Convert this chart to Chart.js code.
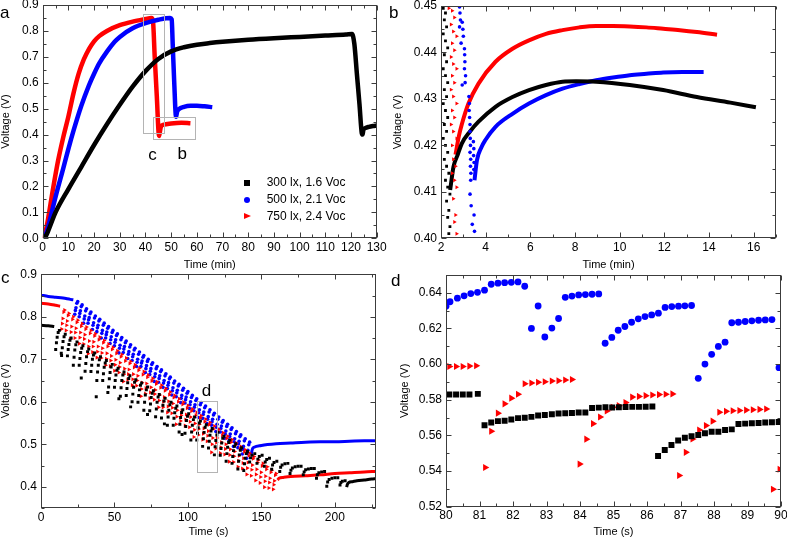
<!DOCTYPE html>
<html>
<head>
<meta charset="utf-8">
<script src="https://cdn.jsdelivr.net/npm/chart.js@4.4.0/dist/chart.umd.min.js"></script>
<style>
  html, body { margin: 0; padding: 0; background: #fff; }
  body { width: 787px; height: 539px; position: relative; overflow: hidden; font-family: "Liberation Sans", Arial, sans-serif; color: #000; }
  canvas { position: absolute; }
  .lbl { position: absolute; font-size: 17px; line-height: 17px; }
  .legend { position: absolute; left: 242px; top: 174px; font-size: 12px; }
  .row { position: relative; height: 17.2px; line-height: 17.2px; padding-left: 24.7px; white-space: nowrap; }
  .mk { position: absolute; }
  .sq { left: 1.7px; top: 5.6px; width: 6px; height: 6px; background: #000; }
  .ci { left: 1.5px; top: 5.4px; width: 6.4px; height: 6.4px; border-radius: 50%; background: #0000ff; }
  .tr { left: 1.5px; top: 5.1px; width: 0; height: 0; border-left: 7px solid #ff0000; border-top: 3.5px solid transparent; border-bottom: 3.5px solid transparent; }
</style>
</head>
<body>
<canvas id="ca" width="395" height="275" style="left:0;top:0"></canvas>
<canvas id="cb" width="395" height="275" style="left:392px;top:0"></canvas>
<canvas id="cc" width="395" height="274" style="left:0;top:265px"></canvas>
<canvas id="cd" width="395" height="274" style="left:392px;top:265px"></canvas>

<div class="lbl" style="left:0;top:3.9px">a</div>
<div class="lbl" style="left:389px;top:3.9px">b</div>
<div class="lbl" style="left:1px;top:268.9px">c</div>
<div class="lbl" style="left:391px;top:272.3px">d</div>

<div class="legend">
  <div class="row"><span class="mk sq"></span>300 lx, 1.6 Voc</div>
  <div class="row"><span class="mk ci"></span>500 lx, 2.1 Voc</div>
  <div class="row"><span class="mk tr"></span>750 lx, 2.4 Voc</div>
</div>

<script>
// ---- panel a: charging / discharging, time in min
const aBlack = [[0.8,0],[2,0.025],[5,0.1],[10,0.19],[15,0.275],[20,0.36],[25,0.44],[30,0.515],[35,0.585],[40,0.645],[45,0.692],[50,0.721],[55,0.737],[60,0.747],[65,0.753],[70,0.758],[80,0.766],[90,0.772],[100,0.777],[110,0.782],[118,0.786],[120.4,0.788],[121.3,0.75],[122.3,0.633],[123.3,0.517],[124.2,0.405],[124.5,0.4],[124.8,0.418],[125.5,0.425],[127,0.43],[128.5,0.433],[130,0.435]];
const aBlue = [[0.8,0],[2,0.04],[5,0.16],[8,0.27],[10,0.345],[12,0.415],[15,0.51],[18,0.59],[20,0.635],[22,0.675],[25,0.72],[28,0.758],[30,0.777],[35,0.81],[40,0.83],[45,0.843],[49.6,0.85],[50.2,0.845],[50.6,0.75],[51.2,0.6],[51.9,0.469],[52.3,0.488],[53,0.498],[55,0.507],[57.5,0.511],[60,0.511],[63,0.509],[66,0.506]];
const aRed = [[0.6,0],[2,0.07],[4,0.19],[6,0.3],[8,0.39],[10,0.47],[12,0.56],[14,0.635],[16,0.69],[18,0.73],[20,0.76],[22,0.78],[25,0.8],[30,0.822],[35,0.836],[40,0.846],[42.3,0.85],[42.9,0.84],[43.6,0.7],[44.4,0.55],[45.3,0.395],[45.6,0.41],[46,0.43],[47,0.438],[50,0.443],[54,0.446],[57.5,0.444]];

// ---- panel b: recovery after discharge
const bBlack = [[2.41,0.4104],[2.56,0.4154],[2.75,0.418],[2.93,0.4204],[3.3,0.423],[3.68,0.4251],[4.44,0.4283],[5.2,0.4304],[5.94,0.4319],[6.7,0.433],[7.44,0.4337],[8.05,0.4338],[8.95,0.4337],[10.45,0.433],[11.95,0.4319],[13.46,0.4304],[14.96,0.4292],[16.1,0.4282]];
const bBlue = [[3.5,0.4125],[3.61,0.4168],[3.8,0.4195],[3.98,0.4211],[4.44,0.424],[5.2,0.4268],[5.94,0.429],[6.7,0.4308],[7.44,0.4322],[8.2,0.4332],[8.95,0.434],[9.7,0.4346],[10.45,0.4351],[11.2,0.4354],[11.95,0.4357],[12.8,0.4358],[13.76,0.4358]];
const bRed = [[2.65,0.418],[2.8,0.422],[2.93,0.4245],[3.23,0.429],[3.68,0.4333],[4.44,0.438],[5.2,0.4408],[5.94,0.4426],[6.7,0.444],[7.44,0.4448],[8.2,0.4454],[8.95,0.4457],[9.7,0.4457],[10.45,0.4456],[11.2,0.4454],[11.95,0.4451],[12.7,0.4448],[13.46,0.4444],[14.36,0.4438]];
const bBlackDots = [[2.1,0.4495],[2.2,0.4485],[2.15,0.447],[2.25,0.4455],[2.1,0.444],[2.2,0.4425],[2.3,0.441],[2.15,0.4395],[2.25,0.438],[2.1,0.4365],[2.2,0.435],[2.3,0.4335],[2.15,0.432],[2.25,0.4305],[2.1,0.429],[2.2,0.4275],[2.3,0.426],[2.15,0.4245],[2.25,0.423],[2.1,0.4215],[2.2,0.42],[2.3,0.4185],[2.15,0.417],[2.25,0.4155],[2.35,0.414],[2.2,0.4125],[2.3,0.411],[2.4,0.4095],[2.25,0.408],[2.35,0.406],[2.3,0.4045],[2.4,0.4025],[2.35,0.401]];
const bRedDots = [[2.35,0.4495],[2.5,0.449],[2.6,0.4475],[2.45,0.446],[2.55,0.4445],[2.7,0.4435],[2.5,0.442],[2.6,0.4405],[2.45,0.439],[2.55,0.4375],[2.7,0.4365],[2.5,0.435],[2.6,0.4335],[2.45,0.432],[2.55,0.4305],[2.7,0.429],[2.5,0.4275],[2.6,0.426],[2.45,0.4245],[2.55,0.423],[2.7,0.4215],[2.5,0.42],[2.55,0.417],[2.65,0.4155],[2.5,0.414],[2.6,0.4125],[2.7,0.411],[2.55,0.4085],[2.65,0.405],[2.6,0.4035],[2.7,0.401]];
const bBlueDots = [[2.83,0.4498],[2.85,0.4485],[2.87,0.447],[2.83,0.4455],[2.95,0.4465],[2.98,0.445],[3.0,0.4435],[2.9,0.442],[3.05,0.4408],[3.06,0.4395],[3.07,0.438],[3.05,0.4365],[3.1,0.435],[3.08,0.4335],[2.95,0.433],[3.25,0.4305],[3.27,0.429],[3.26,0.4275],[3.28,0.426],[3.3,0.4245],[3.3,0.423],[3.31,0.4215],[3.32,0.42],[3.3,0.4185],[3.33,0.417],[3.32,0.4155],[3.34,0.414],[3.33,0.4125],[3.45,0.4208],[3.47,0.4193],[3.46,0.4178],[3.48,0.4163],[3.47,0.4148],[3.3,0.4095],[3.35,0.407],[3.48,0.405],[3.4,0.403],[3.5,0.4015]];

// ---- panel c: discharge, time in s
const cBlackStart = [[0,0.78],[5,0.779],[9,0.777]];
const cBlueStart = [[0,0.851],[5,0.848],[10,0.846],[15,0.844],[20,0.841],[22,0.84]];
const cRedStart = [[0,0.832],[5,0.83],[10,0.827],[13,0.825]];
const cBlackSaw = [[10,0.723],[11,0.752],[12.5,0.768],[13.8,0.714],[14,0.709],[15,0.742],[16.5,0.759],[18,0.708],[19,0.735],[20.5,0.75],[22,0.686],[23,0.722],[24.5,0.741],[26,0.686],[27,0.716],[27.4,0.656],[28.5,0.732],[30,0.672],[31,0.706],[32.5,0.724],[34,0.671],[35,0.7],[36.5,0.715],[37.6,0.612],[38,0.65],[39,0.686],[40.5,0.706],[42,0.65],[43,0.681],[44.5,0.697],[46,0.635],[47,0.669],[48.5,0.688],[50,0.634],[51,0.663],[52.5,0.679],[54,0.613],[55,0.65],[56.5,0.67],[58,0.615],[59,0.645],[60.5,0.661],[62,0.6],[63,0.634],[64.5,0.652],[66,0.599],[67,0.628],[68.5,0.644],[70,0.58],[71,0.616],[72.5,0.635],[74,0.579],[75,0.61],[76.5,0.626],[78,0.565],[79,0.599],[80.5,0.617],[82,0.562],[83,0.592],[84.5,0.608],[86,0.545],[87,0.58],[88.5,0.599],[90,0.545],[91,0.574],[92.5,0.59],[94,0.529],[95,0.563],[96.5,0.581],[98,0.526],[99,0.556],[100.5,0.572],[102,0.51],[103,0.545],[104.5,0.564],[106,0.51],[107,0.539],[108.5,0.555],[110,0.495],[111,0.528],[112.5,0.546],[114,0.491],[115,0.521],[116.5,0.537],[118,0.475],[119,0.509],[120.5,0.528],[122,0.474],[123,0.503],[124.5,0.519],[126,0.46],[127,0.493],[128.5,0.51],[130,0.455],[131,0.485],[132.5,0.501],[134,0.442],[135,0.475],[136.5,0.492],[138,0.438],[139,0.467],[140.5,0.483],
  [142,0.458],[142.6,0.468],[143.6,0.474],[145.5,0.478],[147,0.455],[147.6,0.465],[148.6,0.471],[150.5,0.474],[152,0.448],[152.6,0.458],[153.6,0.464],[155.5,0.467],[157,0.441],[157.6,0.451],[158.6,0.457],[160.5,0.46],[162.5,0.436],[163.1,0.446],[164.1,0.451],[166,0.454],[168,0.455],[169.5,0.431],[170.1,0.439],[171.1,0.444],[173,0.447],[175,0.448],[177,0.448],[178.5,0.428],[179.1,0.435],[180.1,0.44],[182,0.442],[184,0.443],[186,0.443],[187.5,0.42],[188.1,0.428],[189.1,0.433],[191,0.435],[193,0.436],[194.5,0.401],[195.1,0.411],[196.1,0.417],[198,0.42],[200,0.421],[202,0.421],[203.5,0.404],[204.1,0.41],[205.1,0.413],[207,0.414]];
const cBlackRise = [[10.5,0.739],[11.7,0.763],[14.5,0.727],[15.7,0.753],[18.5,0.723],[19.7,0.745],[22.5,0.705],[23.7,0.734],[26.5,0.702],[27.7,0.726],[30.5,0.69],[31.7,0.718],[34.5,0.686],[35.7,0.71],[38.5,0.67],[39.7,0.699],[42.5,0.666],[43.7,0.691],[46.5,0.654],[47.7,0.682],[50.5,0.65],[51.7,0.674],[54.5,0.633],[55.7,0.663],[58.5,0.631],[59.7,0.655],[62.5,0.618],[63.7,0.646],[66.5,0.615],[67.7,0.639],[70.5,0.599],[71.7,0.628],[74.5,0.595],[75.7,0.62],[78.5,0.583],[79.7,0.611],[82.5,0.578],[83.7,0.602],[86.5,0.564],[87.7,0.593],[90.5,0.561],[91.7,0.585],[94.5,0.547],[95.7,0.575],[98.5,0.542],[99.7,0.566],[102.5,0.529],[103.7,0.558],[106.5,0.526],[107.7,0.55],[110.5,0.513],[111.7,0.54],[114.5,0.507],[115.7,0.531],[118.5,0.494],[119.7,0.522],[122.5,0.49],[123.7,0.514],[126.5,0.478],[127.7,0.504],[130.5,0.471],[131.7,0.495],[134.5,0.46],[135.7,0.486],[138.5,0.454],[139.7,0.478],
  [45.5,0.622],[53,0.607],[61,0.588],[72.5,0.57],[84,0.548],[96,0.523]];
const cBlueSaw = [[23,0.806],[23.8,0.821],[25,0.836],[26,0.8],[26.8,0.814],[28,0.828],[29,0.785],[29.8,0.802],[31,0.819],[32,0.785],[32.8,0.798],[34,0.811],[35,0.77],[35.8,0.786],[37,0.802],[38,0.765],[38.8,0.78],[40,0.794],[41,0.75],[41.8,0.768],[43,0.785],[44,0.75],[44.8,0.764],[46,0.777],[47,0.737],[47.8,0.753],[49,0.768],[50,0.732],[50.8,0.746],[52,0.76],[53,0.715],[53.8,0.733],[55,0.751],[56,0.716],[56.8,0.73],[58,0.743],[59,0.702],[59.8,0.718],[61,0.734],[62,0.697],[62.8,0.712],[64,0.726],[65,0.683],[65.8,0.7],[67,0.717],[68,0.683],[68.8,0.696],[70,0.709],[71,0.669],[71.8,0.685],[73,0.7],[74,0.664],[74.8,0.678],[76,0.692],[77,0.648],[77.8,0.666],[79,0.683],[80,0.646],[80.8,0.661],[82,0.675],[83,0.634],[83.8,0.65],[85,0.666],[86,0.631],[86.8,0.645],[88,0.658],[89,0.616],[89.8,0.633],[91,0.649],[92,0.612],[92.8,0.627],[94,0.641],[95,0.598],[95.8,0.615],[97,0.632],[98,0.597],[98.8,0.611],[100,0.624],[101,0.584],[101.8,0.6],[103,0.615],[104,0.579],[104.8,0.593],[106,0.607],[107,0.563],[107.8,0.581],[109,0.598],[110,0.561],[110.8,0.576],[112,0.59],[113,0.549],[113.8,0.565],[115,0.581],[116,0.545],[116.8,0.559],[118,0.573],[119,0.53],[119.8,0.547],[121,0.564],[122,0.529],[122.8,0.543],[124,0.556],[125,0.514],[125.8,0.531],[127,0.547],[128,0.509],[128.8,0.524],[130,0.539],[131,0.495],[131.8,0.513],[133,0.53],[134,0.492],[134.8,0.507],[136,0.522],[137,0.477],[137.8,0.495],[139,0.513],[140,0.467],[140.8,0.486],[142,0.505]];
const cBlueRise = [[23.4,0.815],[24.4,0.832],[26.4,0.808],[27.4,0.824],[29.4,0.795],[30.4,0.814],[32.4,0.793],[33.4,0.807],[35.4,0.78],[36.4,0.797],[38.4,0.774],[39.4,0.79],[41.4,0.761],[42.4,0.78],[44.4,0.758],[45.4,0.773],[47.4,0.746],[48.4,0.763],[50.4,0.74],[51.4,0.756],[53.4,0.726],[54.4,0.746],[56.4,0.724],[57.4,0.739],[59.4,0.712],[60.4,0.729],[62.4,0.706],[63.4,0.722],[65.4,0.693],[66.4,0.712],[68.4,0.691],[69.4,0.705],[71.4,0.678],[72.4,0.695],[74.4,0.672],[75.4,0.688],[77.4,0.659],[78.4,0.678],[80.4,0.655],[81.4,0.671],[83.4,0.644],[84.4,0.661],[86.4,0.639],[87.4,0.654],[89.4,0.626],[90.4,0.644],[92.4,0.621],[93.4,0.637],[95.4,0.608],[96.4,0.627],[98.4,0.605],[99.4,0.62],[101.4,0.593],[102.4,0.61],[104.4,0.587],[105.4,0.603],[107.4,0.574],[108.4,0.593],[110.4,0.57],[111.4,0.586],[113.4,0.559],[114.4,0.576],[116.4,0.553],[117.4,0.569],[119.4,0.54],[120.4,0.559],[122.4,0.537],[123.4,0.552],[125.4,0.524],[126.4,0.542],[128.4,0.518],[129.4,0.535],[131.4,0.506],[132.4,0.525],[134.4,0.501],[135.4,0.518],[137.4,0.488],[138.4,0.508],[140.4,0.478],[141.4,0.499]];
const cRedSaw = [[14,0.771],[14.8,0.796],[16,0.816],[17,0.768],[17.8,0.79],[19,0.808],[20,0.748],[20.8,0.777],[22,0.8],[23,0.75],[23.8,0.773],[25,0.792],[26,0.737],[26.8,0.763],[28,0.784],[29,0.736],[29.8,0.758],[31,0.776],[32,0.713],[32.8,0.743],[34,0.768],[35,0.717],[35.8,0.741],[37,0.76],[38,0.704],[38.8,0.73],[40,0.752],[41,0.703],[41.8,0.726],[43,0.744],[44,0.686],[44.8,0.714],[46,0.736],[47,0.684],[47.8,0.708],[49,0.728],[50,0.673],[50.8,0.699],[52,0.72],[53,0.669],[53.8,0.692],[55,0.711],[56,0.648],[56.8,0.678],[58,0.703],[59,0.652],[59.8,0.676],[61,0.695],[62,0.639],[62.8,0.665],[64,0.687],[65,0.638],[65.8,0.661],[67,0.679],[68,0.613],[68.8,0.645],[70,0.671],[71,0.619],[71.8,0.643],[73,0.663],[74,0.608],[74.8,0.634],[76,0.655],[77,0.605],[77.8,0.628],[79,0.647],[80,0.587],[80.8,0.616],[82,0.639],[83,0.587],[83.8,0.611],[85,0.631],[86,0.575],[86.8,0.601],[88,0.623],[89,0.573],[89.8,0.596],[91,0.615],[92,0.547],[92.8,0.58],[94,0.607],[95,0.555],[95.8,0.579],[97,0.599],[98,0.544],[98.8,0.57],[100,0.591],[101,0.54],[101.8,0.564],[103,0.583],[104,0.517],[104.8,0.549],[106,0.575],[107,0.522],[107.8,0.547],[109,0.567],[110,0.511],[110.8,0.537],[112,0.559],[113,0.507],[113.8,0.531],[115,0.551],[116,0.481],[116.8,0.515],[118,0.543],[119,0.49],[119.8,0.515],[121,0.535],[122,0.479],[122.8,0.505],[124,0.527],[125,0.476],[125.8,0.5],[127,0.519],[128,0.459],[128.8,0.488],[130,0.511],[131,0.458],[131.8,0.483],[133,0.503],[134,0.447],[134.8,0.473],[136,0.495],[137,0.443],[137.8,0.467],[139,0.487],[140,0.429],[140.8,0.457],[142,0.479],[143,0.426],[143.8,0.451],[145,0.471],[146,0.415],[146.8,0.441],[148,0.463],[149,0.409],[149.8,0.434],[151,0.455],[152,0.399],[152.8,0.425],[154,0.447],[155,0.397],[155.8,0.42],[157,0.439],[158,0.394],[158.8,0.414],[160,0.431]];
const cRedRise = [[14.4,0.784],[15.4,0.811],[17.4,0.78],[18.4,0.803],[20.4,0.764],[21.4,0.794],[23.4,0.763],[24.4,0.787],[26.4,0.751],[27.4,0.778],[29.4,0.748],[30.4,0.771],[32.4,0.73],[33.4,0.761],[35.4,0.73],[36.4,0.755],[38.4,0.718],[39.4,0.746],[41.4,0.715],[42.4,0.739],[44.4,0.701],[45.4,0.73],[47.4,0.697],[48.4,0.723],[50.4,0.687],[51.4,0.714],[53.4,0.682],[54.4,0.706],[56.4,0.665],[57.4,0.696],[59.4,0.665],[60.4,0.69],[62.4,0.653],[63.4,0.681],[65.4,0.65],[66.4,0.674],[68.4,0.63],[69.4,0.664],[71.4,0.632],[72.4,0.658],[74.4,0.622],[75.4,0.649],[77.4,0.618],[78.4,0.642],[80.4,0.603],[81.4,0.633],[83.4,0.6],[84.4,0.626],[86.4,0.589],[87.4,0.617],[89.4,0.586],[90.4,0.61],[92.4,0.565],[93.4,0.6],[95.4,0.568],[96.4,0.594],[98.4,0.558],[99.4,0.585],[101.4,0.553],[102.4,0.578],[104.4,0.534],[105.4,0.568],[107.4,0.536],[108.4,0.562],[110.4,0.525],[111.4,0.553],[113.4,0.52],[114.4,0.546],[116.4,0.5],[117.4,0.536],[119.4,0.504],[120.4,0.53],[122.4,0.493],[123.4,0.521],[125.4,0.489],[126.4,0.514],[128.4,0.475],[129.4,0.505],[131.4,0.472],[132.4,0.498],[134.4,0.461],[135.4,0.489],[137.4,0.456],[138.4,0.482],[140.4,0.444],[141.4,0.473],[143.4,0.44],[144.4,0.466],[146.4,0.429],[147.4,0.457],[149.4,0.423],[150.4,0.449],[152.4,0.413],[153.4,0.441],[155.4,0.41],[156.4,0.434],[158.4,0.405],[159.4,0.427]];
const cBlackEnd = [[208,0.399],[208.6,0.406],[209.5,0.41],[212,0.412],[215,0.414],[220,0.416],[225,0.418],[228,0.419]];
const cBlueEnd = [[143,0.475],[144,0.49],[145,0.493],[150,0.497],[160,0.501],[170,0.503],[180,0.505],[190,0.506],[200,0.506],[210,0.507],[220,0.508],[228,0.508]];
const cRedEnd = [[161,0.416],[162,0.42],[165,0.422],[170,0.424],[180,0.426],[190,0.428],[200,0.431],[210,0.433],[220,0.435],[228,0.436]];

// ---- panel d: zoom into the sawtooth, time in s
const dBlack = [[80.1,0.583],[80.3,0.583],[80.5,0.583],[80.7,0.583],[80.95,0.5833],[81.15,0.5657],[81.35,0.5672],[81.55,0.568],[81.75,0.5682],[81.95,0.5689],[82.15,0.5697],[82.35,0.5699],[82.55,0.5704],[82.75,0.5712],[82.95,0.5714],[83.16,0.5719],[83.36,0.5723],[83.56,0.5724],[83.76,0.5726],[83.96,0.5728],[84.16,0.5728],[84.36,0.5754],[84.56,0.5756],[84.76,0.5758],[84.96,0.5757],[85.16,0.5758],[85.36,0.5759],[85.56,0.576],[85.76,0.576],[85.96,0.5761],[86.16,0.5762],[86.33,0.5484],[86.53,0.5518],[86.73,0.5546],[86.93,0.5571],[87.13,0.5587],[87.33,0.5595],[87.53,0.5602],[87.73,0.5612],[87.93,0.5621],[88.13,0.5621],[88.33,0.563],[88.53,0.5634],[88.73,0.5664],[88.93,0.5666],[89.13,0.5668],[89.33,0.567],[89.53,0.5672],[89.73,0.5674],[89.93,0.5675]];
const dBlue = [[80.0,0.6325],[80.12,0.635],[80.34,0.637],[80.54,0.6383],[80.74,0.6396],[80.94,0.6403],[81.15,0.6415],[81.35,0.6448],[81.55,0.6454],[81.75,0.6457],[81.95,0.6459],[82.15,0.6461],[82.35,0.6437],[82.55,0.62],[82.75,0.6326],[82.95,0.6152],[83.16,0.6202],[83.36,0.6256],[83.56,0.6375],[83.76,0.6382],[83.96,0.6388],[84.16,0.639],[84.36,0.6392],[84.56,0.6394],[84.75,0.6117],[84.95,0.615],[85.14,0.619],[85.34,0.6211],[85.54,0.6235],[85.74,0.6254],[85.94,0.6267],[86.14,0.6276],[86.34,0.6286],[86.54,0.6318],[86.74,0.6323],[86.94,0.6325],[87.13,0.6327],[87.33,0.6329],[87.53,0.592],[87.73,0.6],[87.93,0.6055],[88.13,0.6099],[88.33,0.6123],[88.53,0.6232],[88.73,0.6235],[88.93,0.6239],[89.13,0.6243],[89.33,0.6246],[89.53,0.6248],[89.73,0.625],[89.94,0.598]];
const dRed = [[80.1,0.5987],[80.3,0.5987],[80.5,0.5987],[80.7,0.5989],[80.9,0.5991],[81.17,0.542],[81.35,0.5623],[81.55,0.5725],[81.75,0.5777],[81.95,0.5809],[82.15,0.5831],[82.35,0.589],[82.55,0.5894],[82.75,0.5898],[82.95,0.5901],[83.16,0.5905],[83.36,0.5907],[83.56,0.5911],[83.76,0.5914],[83.99,0.5439],[84.19,0.5579],[84.39,0.5666],[84.6,0.5703],[84.8,0.5737],[84.98,0.5758],[85.16,0.5767],[85.36,0.5784],[85.56,0.5815],[85.76,0.5819],[85.96,0.5823],[86.16,0.5827],[86.36,0.5829],[86.56,0.5831],[86.76,0.5833],[86.96,0.5375],[87.16,0.5505],[87.36,0.558],[87.56,0.563],[87.76,0.5655],[87.96,0.568],[88.16,0.573],[88.36,0.5735],[88.56,0.5738],[88.76,0.574],[88.96,0.5742],[89.16,0.5744],[89.36,0.5746],[89.56,0.5748],[89.76,0.5298],[89.96,0.541]];

const BLACK = '#000000', BLUE = '#0000ff', RED = '#ff0000';
const FONT = '"Liberation Sans", Arial, sans-serif';

Chart.defaults.font.family = FONT;
Chart.defaults.font.size = 12;
Chart.defaults.color = '#000';

const P = arr => arr.map(([x, y]) => ({ x, y }));

function curve(arr, color, w) {
  return { data: P(arr), showLine: true, borderColor: color, backgroundColor: color,
    borderWidth: w, pointRadius: 0, pointHoverRadius: 0, cubicInterpolationMode: 'monotone' };
}
function dots(arr, color, style, r, rot) {
  return { data: P(arr), showLine: false, pointStyle: style, pointRadius: r, pointHoverRadius: r,
    pointRotation: rot || 0, backgroundColor: color, borderColor: color, pointBorderWidth: 0 };
}

// frame with inward major/minor ticks on all four sides
const frameTicks = {
  id: 'frameTicks',
  afterDatasetsDraw(chart, args, o) {
    const { ctx, chartArea: ca, scales: { x, y } } = chart;
    const L = Math.round(ca.left) + 0.5, R = Math.round(ca.right) - 0.5;
    const T = Math.round(ca.top) + 0.5, B = Math.round(ca.bottom) - 0.5;
    ctx.save();
    ctx.strokeStyle = '#3c3c3c';
    ctx.lineWidth = 1;
    ctx.beginPath();
    const n0 = Math.ceil(x.min / o.xMinor - 1e-6), n1 = Math.floor(x.max / o.xMinor + 1e-6);
    for (let n = n0; n <= n1; n++) {
      const v = n * o.xMinor, r = v / o.xMajor;
      const len = Math.abs(r - Math.round(r)) < 1e-6 ? 5 : 3;
      const px = Math.round(x.getPixelForValue(v)) + 0.5;
      ctx.moveTo(px, B); ctx.lineTo(px, B - len);
      ctx.moveTo(px, T); ctx.lineTo(px, T + len);
    }
    const m0 = Math.ceil(y.min / o.yMinor - 1e-6), m1 = Math.floor(y.max / o.yMinor + 1e-6);
    for (let n = m0; n <= m1; n++) {
      const v = n * o.yMinor, r = v / o.yMajor;
      const len = Math.abs(r - Math.round(r)) < 1e-6 ? 5 : 3;
      const py = Math.round(y.getPixelForValue(v)) + 0.5;
      ctx.moveTo(L, py); ctx.lineTo(L + len, py);
      ctx.moveTo(R, py); ctx.lineTo(R - len, py);
    }
    ctx.stroke();
    ctx.strokeRect(L, T, R - L, B - T);
    ctx.restore();
  }
};

// grey zoom boxes and their letters
const boxNotes = {
  id: 'boxNotes',
  afterDatasetsDraw(chart, args, o) {
    if (!o.boxes) return;
    const { ctx, scales: { x, y } } = chart;
    ctx.save();
    ctx.strokeStyle = '#b4b4b4';
    ctx.lineWidth = 1;
    o.boxes.forEach(b => {
      const x0 = Math.round(x.getPixelForValue(b[0])) + 0.5, x1 = Math.round(x.getPixelForValue(b[1])) + 0.5;
      const y0 = Math.round(y.getPixelForValue(b[2])) + 0.5, y1 = Math.round(y.getPixelForValue(b[3])) + 0.5;
      ctx.strokeRect(x0, y1, x1 - x0, y0 - y1);
    });
    ctx.fillStyle = '#000';
    ctx.font = '17px ' + FONT;
    ctx.textAlign = 'center';
    ctx.textBaseline = 'middle';
    o.notes.forEach(n => ctx.fillText(n[2], x.getPixelForValue(n[0]), y.getPixelForValue(n[1])));
    ctx.restore();
  }
};

function makeChart(id, datasets, L) {
  return new Chart(document.getElementById(id), {
    type: 'scatter',
    data: { datasets },
    options: {
      responsive: false,
      devicePixelRatio: 1,
      animation: false,
      events: [],
      layout: { padding: L.pad },
      plugins: {
        legend: { display: false },
        tooltip: { enabled: false },
        frameTicks: L.ticks,
        boxNotes: L.notes || {}
      },
      scales: {
        x: {
          type: 'linear', position: 'bottom', min: L.x[0], max: L.x[1],
          grid: { display: false, drawTicks: false }, border: { display: false },
          ticks: { stepSize: L.x[2], includeBounds: false, padding: 2, maxRotation: 0, autoSkip: false,
            callback: v => String(Math.round(v)) },
          title: { display: true, text: L.xTitle, font: { size: 11, lineHeight: 1 }, padding: 0 },
          afterFit(s) { s.height = L.hx; s.paddingLeft = 0; s.paddingRight = 0; }
        },
        y: {
          type: 'linear', position: 'left', min: L.y[0], max: L.y[1],
          grid: { display: false, drawTicks: false }, border: { display: false },
          ticks: { stepSize: L.y[2], includeBounds: false, padding: 4, autoSkip: false,
            callback: v => v.toFixed(L.y[3]) },
          title: { display: true, text: 'Voltage (V)', font: { size: 11, lineHeight: 1 }, padding: 0 },
          afterFit(s) { s.width = L.wy; s.paddingTop = 0; s.paddingBottom = 0; }
        }
      }
    },
    plugins: [frameTicks, boxNotes]
  });
}

makeChart('ca', [
  curve(aBlack, BLACK, 4.5),
  curve(aBlue, BLUE, 4.5),
  curve(aRed, RED, 4.5)
], {
  pad: { left: 0, top: 5, right: 18.3, bottom: 4.5 }, wy: 42.7, hx: 32.2,
  x: [0, 130, 10], y: [0, 0.9, 0.1, 1], xTitle: 'Time (min)',
  ticks: { xMajor: 10, xMinor: 5, yMajor: 0.1, yMinor: 0.05 },
  notes: { boxes: [[39.2, 47.4, 0.405, 0.864], [43.1, 59.4, 0.382, 0.467]],
           notes: [[42.7, 0.321, 'c'], [54.3, 0.325, 'b']] }
});

makeChart('cb', [
  dots(bBlackDots, BLACK, 'rect', 2),
  dots(bRedDots, RED, 'triangle', 2.3, 90),
  dots(bBlueDots, BLUE, 'circle', 1.8),
  curve(bBlack, BLACK, 4),
  curve(bBlue, BLUE, 4),
  curve(bRed, RED, 4)
], {
  pad: { left: 0, top: 6, right: 11, bottom: 4.5 }, wy: 49, hx: 32.2,
  x: [2, 17, 2], y: [0.4, 0.45, 0.01, 2], xTitle: 'Time (min)',
  ticks: { xMajor: 2, xMinor: 1, yMajor: 0.01, yMinor: 0.005 }
});

makeChart('cc', [
  curve(cBlackStart, BLACK, 3),
  curve(cBlueStart, BLUE, 3),
  curve(cRedStart, RED, 3),
  dots(cBlackSaw, BLACK, 'rect', 2.1),
  dots(cBlackRise, BLACK, 'rect', 2.1),
  dots(cRedSaw, RED, 'triangle', 2.4, 90),
  dots(cRedRise, RED, 'triangle', 2.4, 90),
  dots(cBlueSaw, BLUE, 'circle', 1.8),
  dots(cBlueRise, BLUE, 'circle', 1.8),
  curve(cBlackEnd, BLACK, 3),
  curve(cBlueEnd, BLUE, 3),
  curve(cRedEnd, RED, 3)
], {
  pad: { left: 0, top: 9.3, right: 19, bottom: 1.8 }, wy: 41, hx: 29.2,
  x: [0, 228, 50], y: [0.35, 0.9, 0.1, 1], xTitle: 'Time (s)',
  ticks: { xMajor: 50, xMinor: 25, yMajor: 0.1, yMinor: 0.05 },
  notes: { boxes: [[105.9, 120, 0.434, 0.602]], notes: [[112.7, 0.624, 'd']] }
});

makeChart('cd', [
  dots(dBlack, BLACK, 'rect', 4.2),
  dots(dBlue, BLUE, 'circle', 3.4),
  dots(dRed, RED, 'triangle', 4.1, 90)
], {
  pad: { left: 7.5, top: 10, right: 6, bottom: 1.8 }, wy: 46.5, hx: 30.5,
  x: [80, 90, 1], y: [0.52, 0.65, 0.02, 2], xTitle: 'Time (s)',
  ticks: { xMajor: 1, xMinor: 0.5, yMajor: 0.02, yMinor: 0.01 }
});
</script>
</body>
</html>
